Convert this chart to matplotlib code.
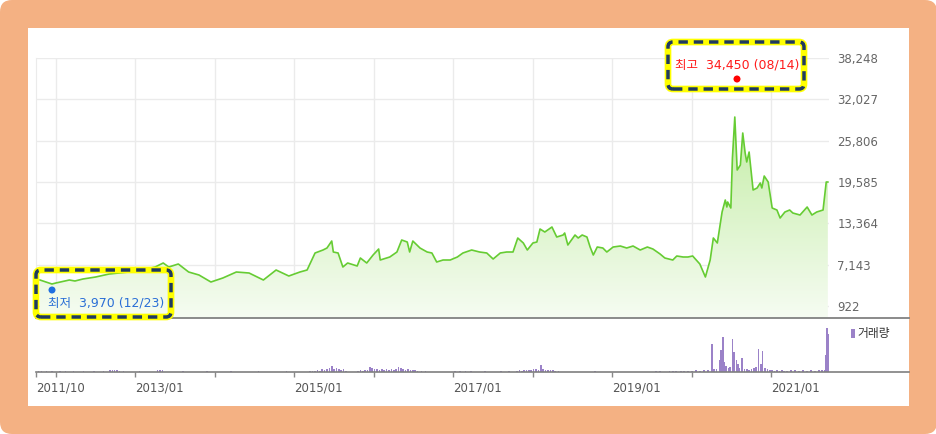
import matplotlib.pyplot as plt
import numpy as np
from matplotlib.patches import FancyBboxPatch, Rectangle, Circle
from matplotlib.lines import Line2D
from matplotlib.colors import LinearSegmentedColormap

plt.rcParams['font.family'] = ['DejaVu Sans', 'Noto Sans CJK KR']

# price (weekly close, KRW) against decimal year
dates = [2011.80, 2011.95, 2012.00, 2012.17, 2012.24, 2012.34, 2012.50, 2012.67,
         2012.85, 2013.05, 2013.25, 2013.35, 2013.42, 2013.54, 2013.67, 2013.80,
         2013.95, 2014.10, 2014.27, 2014.43, 2014.61, 2014.77, 2014.93, 2015.07,
         2015.16, 2015.26, 2015.36, 2015.41, 2015.47, 2015.49, 2015.55, 2015.61,
         2015.67, 2015.79, 2015.83, 2015.91, 2015.99, 2016.06, 2016.08, 2016.20,
         2016.29, 2016.35, 2016.42, 2016.45, 2016.49, 2016.58, 2016.67, 2016.73,
         2016.79, 2016.87, 2016.96, 2017.05, 2017.12, 2017.23, 2017.33, 2017.42,
         2017.50, 2017.59, 2017.67, 2017.75, 2017.81, 2017.88, 2017.93, 2018.00,
         2018.05, 2018.09, 2018.15, 2018.24, 2018.30, 2018.38, 2018.40, 2018.44,
         2018.53, 2018.57, 2018.62, 2018.68, 2018.72, 2018.76, 2018.81, 2018.88,
         2018.93, 2019.01, 2019.10, 2019.18, 2019.26, 2019.35, 2019.44, 2019.51,
         2019.60, 2019.66, 2019.76, 2019.81, 2019.89, 2019.95, 2020.01, 2020.10,
         2020.17, 2020.23, 2020.27, 2020.32, 2020.38, 2020.42, 2020.44, 2020.45,
         2020.49, 2020.51, 2020.54, 2020.57, 2020.61, 2020.64, 2020.67, 2020.69,
         2020.72, 2020.77, 2020.82, 2020.86, 2020.88, 2020.91, 2020.96, 2021.01,
         2021.07, 2021.11, 2021.17, 2021.23, 2021.27, 2021.36, 2021.45, 2021.51,
         2021.57, 2021.65, 2021.69, 2021.71]
prices = [4835, 4233, 4384, 4835, 4685, 4986, 5286, 5738,
          5950, 6200, 6800, 7394, 6791, 7243, 6039, 5588,
          4534, 5136, 6039, 5888, 4835, 6340, 5437, 6039,
          6340, 8899, 9350, 9651, 10704, 9049, 8899, 6791,
          7394, 6942, 8146, 7394, 8598, 9500, 7845, 8297,
          9049, 10855, 10554, 9049, 10704, 9651, 9049, 8899,
          7544, 7845, 7845, 8297, 8899, 9350, 9049, 8899,
          7996, 8899, 9049, 9049, 11156, 10403, 9350, 10403,
          10554, 12511, 12059, 12812, 11307, 11607, 11908, 10102,
          11607, 11156, 11607, 11307, 9801, 8598, 9801, 9651,
          9049, 9801, 9952, 9651, 9952, 9350, 9801, 9500,
          8748, 8146, 7845, 8447, 8297, 8297, 8447, 7244,
          5286, 7845, 11156, 10403, 15069, 16875, 15821, 16574,
          15671, 23196, 29366, 21390, 22143, 26959, 23949, 22595,
          24099, 18380, 18681, 19433, 18681, 20487, 19584, 15671,
          15370, 14166, 15069, 15370, 14918, 14617, 15821, 14617,
          15069, 15370, 19584, 19584]

# volume (thousand shares)
vol_dates = [2011.78, 2011.82, 2011.88, 2011.95, 2012.05, 2012.12, 2012.22, 2012.35,
             2012.48, 2012.60, 2012.68, 2012.71, 2012.74, 2012.77, 2012.80, 2012.85,
             2013.05, 2013.28, 2013.31, 2013.34, 2013.60, 2013.90, 2014.20, 2014.55,
             2014.90,
             2015.20, 2015.23, 2015.26, 2015.29, 2015.32, 2015.35, 2015.38, 2015.41,
             2015.44, 2015.47, 2015.50, 2015.53, 2015.56, 2015.59, 2015.62, 2015.65,
             2015.80, 2015.83, 2015.86, 2015.89, 2015.92, 2015.95, 2015.98, 2016.01,
             2016.04, 2016.07, 2016.10, 2016.13, 2016.16, 2016.19, 2016.22, 2016.25,
             2016.28, 2016.31, 2016.34, 2016.37, 2016.40, 2016.43, 2016.46, 2016.49,
             2016.52, 2016.55, 2016.60, 2016.65,
             2017.02, 2017.08, 2017.15, 2017.22, 2017.40, 2017.60, 2017.70,
             2017.80, 2017.83, 2017.86, 2017.89, 2017.92, 2017.95, 2017.98, 2018.01,
             2018.04, 2018.07, 2018.10, 2018.13, 2018.16, 2018.19, 2018.22, 2018.25,
             2018.28, 2018.32,
             2018.78, 2019.55, 2019.60, 2019.72, 2019.76, 2019.80, 2019.86, 2019.90,
             2019.95, 2020.00, 2020.05, 2020.10, 2020.15, 2020.20,
             2020.25, 2020.28, 2020.31, 2020.35, 2020.37, 2020.39, 2020.41, 2020.43,
             2020.46, 2020.48, 2020.51, 2020.53, 2020.56, 2020.58, 2020.60, 2020.63,
             2020.66, 2020.69, 2020.72, 2020.75, 2020.78, 2020.81, 2020.84, 2020.87,
             2020.89, 2020.92, 2020.95, 2020.98, 2021.01, 2021.04, 2021.07, 2021.10,
             2021.13, 2021.16, 2021.20, 2021.25, 2021.30, 2021.35, 2021.40, 2021.45,
             2021.50, 2021.55, 2021.60, 2021.64, 2021.67, 2021.69, 2021.70, 2021.71]
vol_values = [100, 100, 150, 100, 100, 150, 100, 100,
              100, 150, 200, 200, 200, 200, 150, 100,
              100, 200, 200, 250, 100, 100, 100, 100,
              100,
              100, 150, 150, 200, 150, 300, 200, 300,
              400, 650, 300, 400, 300, 200, 300, 150,
              150, 200, 150, 200, 200, 500, 400, 300,
              350, 250, 300, 250, 300, 250, 300, 250,
              350, 500, 400, 300, 250, 300, 200, 250,
              200, 150, 150, 150,
              100, 100, 100, 100, 100, 100, 100,
              150, 200, 150, 250, 200, 250, 200, 300,
              300, 250, 750, 300, 250, 200, 250, 200,
              150, 150,
              100, 100, 100, 100, 100, 100, 150, 150,
              150, 150, 200, 150, 200, 200,
              2800, 300, 300, 1200, 2200, 3500, 1000, 600,
              400, 500, 3300, 2000, 1200, 800, 400, 1400,
              300, 300, 200, 300, 400, 500, 2300, 800,
              2100, 400, 300, 200, 200, 150, 200, 150,
              200, 150, 150, 200, 250, 150, 200, 150,
              200, 150, 200, 200, 250, 1700, 4400, 3800]

y_ticks = [922, 7143, 13364, 19585, 25806, 32027, 38248]
year_lines = [2012, 2013, 2014, 2015, 2016, 2017, 2018, 2019, 2020, 2021]
x_label_pos = [2011.75, 2013, 2015, 2017, 2019, 2021]
x_labels = ['2011/10', '2013/01', '2015/01', '2017/01', '2019/01', '2021/01']

W, H = 937, 434
fig = plt.figure(figsize=(W / 100, H / 100), dpi=100, facecolor='white')
inch = fig.dpi_scale_trans


def px(x, y):
    return x / 100, (H - y) / 100


# orange frame with white card
fig.add_artist(FancyBboxPatch((0, 0), W / 100, H / 100, boxstyle='round,pad=0,rounding_size=0.12',
                              transform=inch, fc='#f4b183', ec='none', zorder=-10))
fig.add_artist(Rectangle(px(28, 406), 8.81, 3.78, transform=inch, fc='white', ec='none', zorder=-9))

xmin, xmax = 2011.75, 2011.75 + 793 / 79.5
ybot, ytop = -884, 38248

# price pane
ax = fig.add_axes([36 / W, (H - 318) / H, 793 / W, 260 / H])
ax.set_facecolor('none')
ax.plot(dates, prices, color='#66cc33', lw=1.2, zorder=3)
poly = ax.fill_between(dates, prices, ybot, color='none', lw=0)
grad = np.linspace(0, 1, 256).reshape(-1, 1)
cmap = LinearSegmentedColormap.from_list('g', ['#f6fcf2', '#c4eda6'])
im = ax.imshow(grad, aspect='auto', origin='lower', cmap=cmap,
               extent=[xmin, xmax, ybot, max(prices)], zorder=2)
im.set_clip_path(poly.get_paths()[0], transform=ax.transData)
ax.set_xlim(xmin, xmax)
ax.set_ylim(ybot, ytop)
ax.set_yticks(y_ticks)
ax.set_yticklabels([f'{v:,}' for v in y_ticks])
ax.yaxis.tick_right()
ax.set_xticks(year_lines)
ax.set_xticklabels([])
ax.tick_params(axis='both', length=0)
ax.tick_params(axis='y', pad=6, labelsize=8.5, labelcolor='#666666')
ax.grid(color='#ebebeb', lw=1, zorder=0)
for s in ['top', 'right', 'bottom']:
    ax.spines[s].set_visible(False)
ax.spines['left'].set_color('#ebebeb')

# volume pane
axv = fig.add_axes([36 / W, (H - 372) / H, 793 / W, 50 / H])
axv.set_facecolor('none')
axv.bar(vol_dates, vol_values, width=0.02, color='#9b82c8', lw=0)
axv.set_xlim(xmin, xmax)
axv.set_ylim(0, 5000)
axv.set_yticks([])
axv.set_xticks(x_label_pos)
axv.set_xticklabels(x_labels)
axv.set_xticks([y for y in year_lines if y not in x_label_pos], minor=True)
for lab in axv.get_xticklabels():
    lab.set_ha('left')
axv.tick_params(axis='x', which='both', length=3.6, width=1, color='#888888',
                labelsize=8.5, labelcolor='#555555', pad=3)
for s in axv.spines.values():
    s.set_visible(False)

# pane separators
for yy, c, w in [(318, '#8a8a8a', 1.4), (372, '#7f7f7f', 1.2)]:
    fig.add_artist(Line2D([0.36, 9.09], [(H - yy) / 100] * 2, transform=inch, color=c, lw=w, zorder=1))

# volume legend
fig.add_artist(Rectangle(px(851, 338), 0.035, 0.09, transform=inch, fc='#9b82c8', ec='none'))
fig.text(8.57, (H - 334) / 100, '거래량', transform=inch, fontsize=8.5, color='#333333', va='center')


def callout(x0, y0, x1, y1, fill):
    xy = px(x0, y1)
    w, h = (x1 - x0) / 100, (y1 - y0) / 100
    fig.add_artist(FancyBboxPatch(xy, w, h, boxstyle='round,pad=0,rounding_size=0.05', transform=inch,
                                  fc=fill, ec='#ffff00', lw=4.8, zorder=5))
    fig.add_artist(FancyBboxPatch(xy, w, h, boxstyle='round,pad=0,rounding_size=0.05', transform=inch,
                                  fc='none', ec='#1f3a60', lw=2.5, linestyle=(0, (2.7, 1.7)),
                                  capstyle='butt', zorder=6))


# low / high callouts
callout(36, 270, 171, 317, 'none')
fig.text(0.48, (H - 303) / 100, '최저  3,970 (12/23)', transform=inch, fontsize=9,
         color='#2a6fd6', va='center', zorder=7)
fig.add_artist(Circle(px(52, 290), 0.035, transform=inch, fc='#1f6fe0', ec='none', zorder=7))

callout(668, 42, 804, 89, 'white')
fig.text(6.75, (H - 65) / 100, '최고  34,450 (08/14)', transform=inch, fontsize=9,
         color='#ff1a1a', va='center', zorder=7)
fig.add_artist(Circle(px(737, 79), 0.035, transform=inch, fc='#ff0000', ec='none', zorder=7))

fig.savefig('out.png', dpi=100)
